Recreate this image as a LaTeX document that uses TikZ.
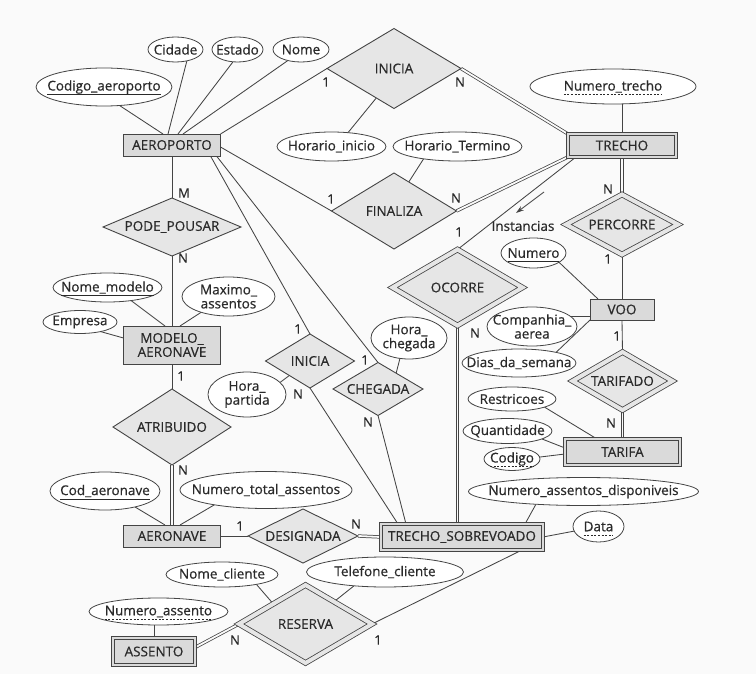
\documentclass[tikz,border=0pt]{standalone}
\usepackage{fontspec}
\setmainfont{Open Sans}[FakeBold=0.6]
\usetikzlibrary{shapes.geometric,arrows.meta}

\definecolor{bgc}{HTML}{FAFAFA}
\definecolor{linec}{HTML}{444444}
\definecolor{textc}{HTML}{2A2A2A}
\definecolor{entfill}{HTML}{DADADA}
\definecolor{relfill}{HTML}{E6E6E6}

\pgfdeclarelayer{canvas}
\pgfdeclarelayer{links}
\pgfsetlayers{canvas,links,main}

\tikzset{
  every node/.style={inner sep=0pt, outer sep=0pt},
  entity/.style={rectangle, draw=linec, line width=0.9pt, fill=entfill},
  weakentity/.style={entity, line width=0.8pt, double=entfill, double distance=1.8pt},
  rel/.style={diamond, draw=linec, line width=0.9pt, fill=relfill},
  weakrel/.style={rel, line width=0.8pt, double=relfill, double distance=4pt},
  attr/.style={ellipse, draw=linec, line width=0.8pt, fill=white},
  txt/.style={text=textc, font=\fontsize{13.5}{14}\selectfont, align=center},
  card/.style={text=textc, font=\fontsize{13}{14}\selectfont},
  link/.style={draw=linec, line width=0.85pt},
  dlink/.style={draw=linec, line width=0.75pt, double=bgc, double distance=1.8pt},
  keyline/.style={draw=textc, line width=0.7pt},
  partkeyline/.style={draw=textc, line width=0.7pt, dash pattern=on 2pt off 1.6pt},
}
% underline of a key attribute, drawn below the text node #2
\newcommand{\keyunder}[2]{\draw[#1] ([yshift=-4pt]#2.base west) -- ([yshift=-4pt]#2.base east);}

\begin{document}
\begin{tikzpicture}[x=1pt,y=-1pt]
\useasboundingbox (0,0) rectangle (756,674);
\begin{pgfonlayer}{canvas}
  \fill[bgc] (0,0) rectangle (756,674);
\end{pgfonlayer}

% ---------- entities ----------
\node[entity, minimum width=97, minimum height=22] (aero) at (172,145) {};
\node[txt] (aero-t) at (aero) {AEROPORTO};
\node[weakentity, minimum width=108, minimum height=23] (trecho) at (622,145.5) {};
\node[txt] (trecho-t) at (trecho) {TRECHO};
\node[entity, minimum width=97, minimum height=38] (modelo) at (172,345) {};
\node[txt] (modelo-t) at (modelo) {MODELO\_\\AERONAVE};
\node[entity, minimum width=97, minimum height=22] (aeronave) at (172,536) {};
\node[txt] (aeronave-t) at (aeronave) {AERONAVE};
\node[weakentity, minimum width=82, minimum height=27] (assento) at (154,651.5) {};
\node[txt] (assento-t) at (assento) {ASSENTO};
\node[weakentity, minimum width=162, minimum height=26] (tsv) at (462,537) {};
\node[txt] (tsv-t) at (tsv) {TRECHO\_SOBREVOADO};
\node[entity, minimum width=64, minimum height=21] (voo) at (622,309.5) {};
\node[txt] (voo-t) at (voo) {VOO};
\node[weakentity, minimum width=115, minimum height=26] (tarifa) at (622.5,452) {};
\node[txt] (tarifa-t) at (tarifa) {TARIFA};

% ---------- relationships ----------
\node[rel, minimum width=134, minimum height=80] (inicia) at (394,68.5) {};
\node[txt] (inicia-t) at (inicia) {INICIA};
\node[rel, minimum width=125, minimum height=76] (finaliza) at (394,211) {};
\node[txt] (finaliza-t) at (finaliza) {FINALIZA};
\node[rel, minimum width=138, minimum height=58] (pode) at (172,227) {};
\node[txt] (pode-t) at (pode) {PODE\_POUSAR};
\node[rel, minimum width=118, minimum height=76] (atrib) at (172,427) {};
\node[txt] (atrib-t) at (atrib) {ATRIBUIDO};
\node[rel, minimum width=89, minimum height=54] (inis) at (310,361) {};
\node[txt] (inis-t) at (inis) {INICIA};
\node[rel, minimum width=90, minimum height=53] (cheg) at (378,389) {};
\node[txt] (cheg-t) at (cheg) {CHEGADA};
\node[rel, minimum width=110, minimum height=54] (desig) at (303,536) {};
\node[txt] (desig-t) at (desig) {DESIGNADA};
\node[weakrel, minimum width=112, minimum height=60] (perc) at (622,224.5) {};
\node[txt] (perc-t) at (perc) {PERCORRE};
\node[weakrel, minimum width=130, minimum height=76] (ocorre) at (457.5,287.5) {};
\node[txt] (ocorre-t) at (ocorre) {OCORRE};
\node[weakrel, minimum width=100, minimum height=58] (tarifado) at (622.5,381) {};
\node[txt] (tarifado-t) at (tarifado) {TARIFADO};
\node[weakrel, minimum width=133, minimum height=78] (reserva) at (305.5,624) {};
\node[txt] (reserva-t) at (reserva) {RESERVA};

% ---------- attributes ----------
\node[attr, minimum width=55, minimum height=25] (cid) at (175.5,49.5) {};
\node[txt] (cid-t) at (cid) {Cidade};
\node[attr, minimum width=51, minimum height=25] (est) at (237.5,49.5) {};
\node[txt] (est-t) at (est) {Estado};
\node[attr, minimum width=56, minimum height=25] (nome) at (301,49.5) {};
\node[txt] (nome-t) at (nome) {Nome};
\node[attr, minimum width=136, minimum height=38] (codaero) at (104,87) {};
\node[txt] (codaero-t) at (codaero) {Codigo\_aeroporto};
\keyunder{keyline}{codaero-t}
\node[attr, minimum width=109, minimum height=29] (hini) at (331.5,146.5) {};
\node[txt] (hini-t) at (hini) {Horario\_inicio};
\node[attr, minimum width=129, minimum height=29] (hter) at (457.5,146.5) {};
\node[txt] (hter-t) at (hter) {Horario\_Termino};
\node[attr, minimum width=166, minimum height=35] (ntre) at (613,86.5) {};
\node[txt] (ntre-t) at (ntre) {Numero\_trecho};
\keyunder{partkeyline}{ntre-t}
\node[attr, minimum width=109, minimum height=29] (nmod) at (107.5,287.5) {};
\node[txt] (nmod-t) at (nmod) {Nome\_modelo};
\keyunder{keyline}{nmod-t}
\node[attr, minimum width=74, minimum height=23] (emp) at (80,322) {};
\node[txt] (emp-t) at (emp) {Empresa};
\node[attr, minimum width=93, minimum height=39] (maxa) at (228.5,296.5) {};
\node[txt] (maxa-t) at (maxa) {Maximo\_\\assentos};
\node[attr, minimum width=78, minimum height=45] (hpart) at (247,394.5) {};
\node[txt] (hpart-t) at (hpart) {Hora\_\\partida};
\node[attr, minimum width=76, minimum height=42] (hcheg) at (409,338) {};
\node[txt] (hcheg-t) at (hcheg) {Hora\_\\chegada};
\node[attr, minimum width=65, minimum height=30] (num) at (533.5,253) {};
\node[txt] (num-t) at (num) {Numero};
\keyunder{keyline}{num-t}
\node[attr, minimum width=90, minimum height=39] (comp) at (532,326.5) {};
\node[txt] (comp-t) at (comp) {Companhia\_\\aerea};
\node[attr, minimum width=114, minimum height=28] (dias) at (519,363) {};
\node[txt] (dias-t) at (dias) {Dias\_da\_semana};
\node[attr, minimum width=88, minimum height=24] (restr) at (512,399) {};
\node[txt] (restr-t) at (restr) {Restricoes};
\node[attr, minimum width=89, minimum height=25] (quant) at (507.5,431) {};
\node[txt] (quant-t) at (quant) {Quantidade};
\node[attr, minimum width=56, minimum height=23] (codigo) at (512,459) {};
\node[txt] (codigo-t) at (codigo) {Codigo};
\keyunder{partkeyline}{codigo-t}
\node[attr, minimum width=230, minimum height=28] (nad) at (583.5,491.5) {};
\node[txt] (nad-t) at (nad) {Numero\_assentos\_disponiveis};
\node[attr, minimum width=51, minimum height=31] (data) at (598.5,526.5) {};
\node[txt] (data-t) at (data) {Data};
\keyunder{partkeyline}{data-t}
\node[attr, minimum width=110, minimum height=38] (codaer) at (105,491) {};
\node[txt] (codaer-t) at (codaer) {Cod\_aeronave};
\keyunder{keyline}{codaer-t}
\node[attr, minimum width=172, minimum height=37] (nta) at (266,490) {};
\node[txt] (nta-t) at (nta) {Numero\_total\_assentos};
\node[attr, minimum width=112, minimum height=25] (ncli) at (222,574.5) {};
\node[txt] (ncli-t) at (ncli) {Nome\_cliente};
\node[attr, minimum width=157, minimum height=30] (tel) at (385,572) {};
\node[txt] (tel-t) at (tel) {Telefone\_cliente};
\node[attr, minimum width=139, minimum height=27] (nass) at (158.5,611.5) {};
\node[txt] (nass-t) at (nass) {Numero\_assento};
\keyunder{partkeyline}{nass-t}

% ---------- cardinalities ----------
\node[card] (k1) at (326,82) {1};
\node[card] (k2) at (460,82) {N};
\node[card] (k3) at (331,199) {1};
\node[card] (k4) at (456,198) {N};
\node[card] (k5) at (184,193) {M};
\node[card] (k6) at (183,258) {N};
\node[card] (k7) at (181,376) {1};
\node[card] (k8) at (183,470) {N};
\node[card] (k9) at (240,526) {1};
\node[card] (k10) at (356,524) {N};
\node[card] (k11) at (235,640) {N};
\node[card] (k12) at (378,640) {1};
\node[card] (k13) at (298,329) {1};
\node[card] (k14) at (298,394) {N};
\node[card] (k15) at (365,360) {1};
\node[card] (k16) at (368,422) {N};
\node[card] (k17) at (459,232) {1};
\node[card] (k18) at (475,333) {N};
\node[card] (k19) at (608,189) {N};
\node[card] (k20) at (608,259) {1};
\node[card] (k21) at (617,336) {1};
\node[card] (k22) at (611,423) {N};

% instances arrow
\coordinate (insA) at (544,192);
\coordinate (insB) at (516,213);
\draw[link, -{Stealth[length=8pt,width=5pt]}] (insA) -- (insB);
\node[txt] (ins-t) at (523,226) {Instancias};

% ---------- connectors ----------
\begin{pgfonlayer}{links}
% AEROPORTO
\draw[link] (codaero.-50) -- ([xshift=-9pt]aero.north);
\draw[link] (cid.-45) -- ([xshift=-4pt]aero.north);
\draw[link] (est.-110) -- ([xshift=6pt]aero.north);
\draw[link] (nome.-140) -- ([xshift=11pt]aero.north);
\draw[link] (aero.north east) -- (inicia.west);
\draw[dlink] (inicia.east) -- (trecho.north west);
\draw[link] (inicia.-121) -- (hini.40);
\draw[link] ([yshift=-2pt]aero.east) -- (finaliza.west);
\draw[dlink] (finaliza.east) -- (trecho.south west);
\draw[link] (finaliza.63) -- (hter.-160);
% TRECHO
\draw[link] (trecho.north) -- (trecho.north |- ntre.south);
\draw[link] ([xshift=8pt]trecho.south west) -- (ocorre.north);
\draw[dlink] (trecho.south) -- (perc.north);
\draw[link] (perc.south) -- (voo.north);
% VOO
\draw[link] (num.-20) -- ([xshift=8pt]voo.north west);
\draw[link] (comp.15) -- (comp.15 -| voo.west);
\draw[link] (dias.16) -- (voo.south west);
\draw[link] (voo.south) -- (tarifado.north);
\draw[dlink] (tarifado.south) -- (tarifa.north);
% TARIFA
\draw[link] (restr.-14) -- ([xshift=32pt]tarifa.north west);
\draw[link] (quant.-13) -- ([yshift=4pt]tarifa.west);
\draw[link] (codigo.4) -- ([yshift=-2pt]tarifa.west);
% TRECHO_SOBREVOADO
\draw[dlink] (ocorre.south) -- (ocorre.south |- tsv.north);
\draw[link] (nad.-165) -- ([xshift=-18pt]tsv.north east);
\draw[link] (tsv.east) -- (data);
\draw[link] (reserva.east) -- ([xshift=-21pt]tsv.south east);
% RESERVA
\draw[dlink] (reserva.west) -- ([yshift=4pt]assento.east);
\draw[link] (ncli.-16) -- (reserva.148);
\draw[link] (tel.-156) -- (reserva.38);
\draw[link] (assento.north) -- (assento.north |- nass.south);
% aircraft chain
\draw[link] (aero.south) -- (pode.north);
\draw[link] (pode.south) -- (modelo.north);
\draw[link] (nmod.-29) -- ([xshift=-7pt]modelo.north);
\draw[link] (emp.-25) -- ([yshift=7pt]modelo.west);
\draw[link] (maxa.-150) -- ([xshift=8pt]modelo.north);
\draw[link] (modelo.south) -- (atrib.north);
\draw[dlink] (atrib.south) -- (aeronave.north);
\draw[link] (codaer.-28) -- ([xshift=-7pt]aeronave.north);
\draw[link] (nta.-164) -- ([xshift=8pt]aeronave.north);
\draw[link] (aeronave.east) -- (desig.west);
\draw[dlink] (desig.east) -- (tsv.west);
% departure / arrival
\draw[link] ([xshift=-10pt]aero.south east) -- (inis.north);
\draw[link] (inis.south) -- ([xshift=17pt]tsv.north west);
\draw[link] (hpart.20) -- (inis.-145);
\draw[link] ([xshift=-4pt]aero.south east) -- (cheg.north);
\draw[link] (cheg.south) -- ([xshift=25pt]tsv.north west);
\draw[link] (hcheg.-114) -- (cheg.41);
\end{pgfonlayer}
\end{tikzpicture}
\end{document}
